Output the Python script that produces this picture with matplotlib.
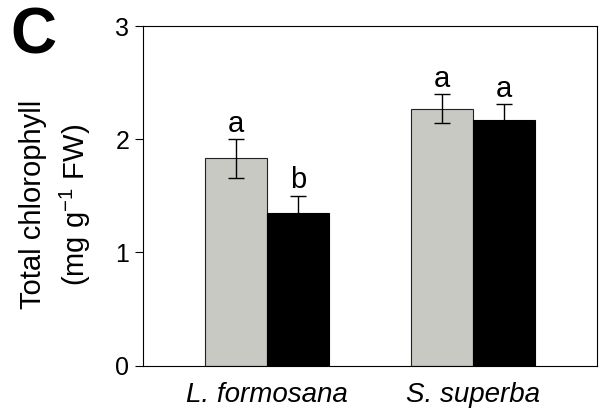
import matplotlib
matplotlib.use("Agg")
import matplotlib.pyplot as plt
import numpy as np

plt.rcParams["font.family"] = ["Liberation Sans", "DejaVu Sans"]
plt.rcParams["mathtext.fontset"] = "custom"
plt.rcParams["mathtext.rm"] = "Liberation Sans"

# Data
species = ["L. formosana", "S. superba"]
control_mean = [1.83, 2.27]
control_err = [0.17, 0.13]
treated_mean = [1.35, 2.17]
treated_err = [0.15, 0.14]
control_letters = ["a", "a"]
treated_letters = ["b", "a"]

fig = plt.figure(figsize=(6.01, 4.13), dpi=100)
ax = fig.add_axes([0.238, 0.115, 0.7554, 0.822])

x = np.arange(len(species))
width = 0.3

err_style = dict(ecolor="black", elinewidth=1.0, capsize=6, capthick=1.0)
ax.bar(x - width / 2, control_mean, width, yerr=control_err, color="#c9c9c3",
       edgecolor="#222222", linewidth=0.8, error_kw=err_style, zorder=2)
ax.bar(x + width / 2, treated_mean, width, yerr=treated_err, color="black",
       edgecolor="black", linewidth=0.8, error_kw=err_style, zorder=2)

# significance letters above the error bars
for xi, m, e, lab in zip(x - width / 2, control_mean, control_err, control_letters):
    ax.annotate(lab, (xi, m + e), xytext=(0, 1), textcoords="offset points",
                ha="center", va="bottom", fontsize=21)
for xi, m, e, lab in zip(x + width / 2, treated_mean, treated_err, treated_letters):
    ax.annotate(lab, (xi, m + e), xytext=(0, 1), textcoords="offset points",
                ha="center", va="bottom", fontsize=21)

ax.set_xlim(-0.6, 1.6)
ax.set_ylim(0, 3)
ax.set_yticks([0, 1, 2, 3])
ax.set_xticks(x)
ax.set_xticklabels(species, fontsize=20, style="italic")
ax.tick_params(axis="y", direction="out", length=6, width=0.8, labelsize=18, pad=4)
ax.tick_params(axis="x", length=0, pad=12)
for s in ax.spines.values():
    s.set_linewidth(0.8)

fig.text(0.093, 0.504, "Total chlorophyll\n(mg g$^{-1}$ FW)", fontsize=21,
         rotation=90, ha="center", va="center", multialignment="center",
         linespacing=1.4)

fig.text(0.017, 0.985, "C", fontsize=46, fontweight="bold", ha="left", va="top")

fig.savefig("out.png", dpi=100)
plt.close(fig)
